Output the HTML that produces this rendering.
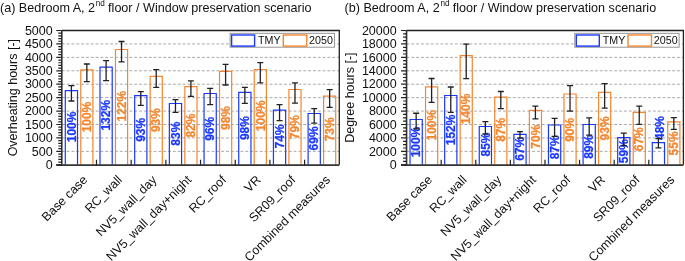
<!DOCTYPE html>
<html><head><meta charset="utf-8"><style>
html,body{margin:0;padding:0;background:#fff;}
svg{display:block;will-change:transform;font-family:"Liberation Sans",sans-serif;fill:#111;}

</style></head><body>
<svg width="685" height="261" viewBox="0 0 685 261">
<rect width="685" height="261" fill="#fff"/>
<text x="0" y="11.9" font-size="12.58">(a) Bedroom A, 2<tspan font-size="8.2" dy="-5.5" dx="0.7">nd</tspan><tspan dy="5.5" dx="-0.3" font-size="12.58"> floor / Window preservation scenario</tspan></text>
<line x1="61.8" x2="339.3" y1="151.37" y2="151.37" stroke="#a9a9a9" stroke-width="1" stroke-dasharray="2.9 1.93"/>
<line x1="61.8" x2="339.3" y1="137.94" y2="137.94" stroke="#a9a9a9" stroke-width="1" stroke-dasharray="2.9 1.93"/>
<line x1="61.8" x2="339.3" y1="124.51" y2="124.51" stroke="#a9a9a9" stroke-width="1" stroke-dasharray="2.9 1.93"/>
<line x1="61.8" x2="339.3" y1="111.08" y2="111.08" stroke="#a9a9a9" stroke-width="1" stroke-dasharray="2.9 1.93"/>
<line x1="61.8" x2="339.3" y1="97.65" y2="97.65" stroke="#a9a9a9" stroke-width="1" stroke-dasharray="2.9 1.93"/>
<line x1="61.8" x2="339.3" y1="84.22" y2="84.22" stroke="#a9a9a9" stroke-width="1" stroke-dasharray="2.9 1.93"/>
<line x1="61.8" x2="339.3" y1="70.79" y2="70.79" stroke="#a9a9a9" stroke-width="1" stroke-dasharray="2.9 1.93"/>
<line x1="61.8" x2="339.3" y1="57.36" y2="57.36" stroke="#a9a9a9" stroke-width="1" stroke-dasharray="2.9 1.93"/>
<line x1="61.8" x2="339.3" y1="43.93" y2="43.93" stroke="#a9a9a9" stroke-width="1" stroke-dasharray="2.9 1.93"/>
<path d="M65.3 164.8V90.7H77.52V164.8" fill="none" stroke="#1a38ff" stroke-width="1.2"/>
<path d="M80.78 164.8V69.8H92.92V164.8" fill="none" stroke="#f5862e" stroke-width="1.2"/>
<path d="M99.99 164.8V67.1H112.21V164.8" fill="none" stroke="#1a38ff" stroke-width="1.2"/>
<path d="M115.47 164.8V49.5H127.61V164.8" fill="none" stroke="#f5862e" stroke-width="1.2"/>
<path d="M134.68 164.8V95.6H146.9V164.8" fill="none" stroke="#1a38ff" stroke-width="1.2"/>
<path d="M150.16 164.8V76.4H162.3V164.8" fill="none" stroke="#f5862e" stroke-width="1.2"/>
<path d="M169.36 164.8V103.5H181.58V164.8" fill="none" stroke="#1a38ff" stroke-width="1.2"/>
<path d="M184.84 164.8V86.7H196.98V164.8" fill="none" stroke="#f5862e" stroke-width="1.2"/>
<path d="M204.05 164.8V93.5H216.27V164.8" fill="none" stroke="#1a38ff" stroke-width="1.2"/>
<path d="M219.53 164.8V71.4H231.67V164.8" fill="none" stroke="#f5862e" stroke-width="1.2"/>
<path d="M238.74 164.8V92.35H250.96V164.8" fill="none" stroke="#1a38ff" stroke-width="1.2"/>
<path d="M254.22 164.8V69.5H266.36V164.8" fill="none" stroke="#f5862e" stroke-width="1.2"/>
<path d="M273.43 164.8V110.1H285.65V164.8" fill="none" stroke="#1a38ff" stroke-width="1.2"/>
<path d="M288.91 164.8V89.5H301.05V164.8" fill="none" stroke="#f5862e" stroke-width="1.2"/>
<path d="M308.11 164.8V113.5H320.33V164.8" fill="none" stroke="#1a38ff" stroke-width="1.2"/>
<path d="M323.59 164.8V96.2H335.73V164.8" fill="none" stroke="#f5862e" stroke-width="1.2"/>
<text transform="translate(75.66,126.9) rotate(-90) scale(1.0,1)" text-anchor="middle" font-size="12.0" font-weight="bold" fill="#1a38ff" stroke="#1a38ff" stroke-width="0.25">100%</text>
<text transform="translate(91.1,117) rotate(-90) scale(1.0,1)" text-anchor="middle" font-size="12.0" font-weight="bold" fill="#f5862e" stroke="#f5862e" stroke-width="0.25">100%</text>
<text transform="translate(110.35,115.25) rotate(-90) scale(1.0,1)" text-anchor="middle" font-size="12.0" font-weight="bold" fill="#1a38ff" stroke="#1a38ff" stroke-width="0.25">132%</text>
<text transform="translate(125.79,106.2) rotate(-90) scale(1.0,1)" text-anchor="middle" font-size="12.0" font-weight="bold" fill="#f5862e" stroke="#f5862e" stroke-width="0.25">122%</text>
<text transform="translate(145.04,129.85) rotate(-90) scale(1.0,1)" text-anchor="middle" font-size="12.0" font-weight="bold" fill="#1a38ff" stroke="#1a38ff" stroke-width="0.25">93%</text>
<text transform="translate(160.48,120.1) rotate(-90) scale(1.0,1)" text-anchor="middle" font-size="12.0" font-weight="bold" fill="#f5862e" stroke="#f5862e" stroke-width="0.25">93%</text>
<text transform="translate(179.73,133.7) rotate(-90) scale(1.0,1)" text-anchor="middle" font-size="12.0" font-weight="bold" fill="#1a38ff" stroke="#1a38ff" stroke-width="0.25">83%</text>
<text transform="translate(195.17,125.6) rotate(-90) scale(1.0,1)" text-anchor="middle" font-size="12.0" font-weight="bold" fill="#f5862e" stroke="#f5862e" stroke-width="0.25">82%</text>
<text transform="translate(214.41,128.85) rotate(-90) scale(1.0,1)" text-anchor="middle" font-size="12.0" font-weight="bold" fill="#1a38ff" stroke="#1a38ff" stroke-width="0.25">96%</text>
<text transform="translate(229.85,118) rotate(-90) scale(1.0,1)" text-anchor="middle" font-size="12.0" font-weight="bold" fill="#f5862e" stroke="#f5862e" stroke-width="0.25">98%</text>
<text transform="translate(249.1,128.1) rotate(-90) scale(1.0,1)" text-anchor="middle" font-size="12.0" font-weight="bold" fill="#1a38ff" stroke="#1a38ff" stroke-width="0.25">98%</text>
<text transform="translate(264.54,115.8) rotate(-90) scale(1.0,1)" text-anchor="middle" font-size="12.0" font-weight="bold" fill="#f5862e" stroke="#f5862e" stroke-width="0.25">100%</text>
<text transform="translate(283.79,136.45) rotate(-90) scale(1.0,1)" text-anchor="middle" font-size="12.0" font-weight="bold" fill="#1a38ff" stroke="#1a38ff" stroke-width="0.25">74%</text>
<text transform="translate(299.23,127.15) rotate(-90) scale(1.0,1)" text-anchor="middle" font-size="12.0" font-weight="bold" fill="#f5862e" stroke="#f5862e" stroke-width="0.25">79%</text>
<text transform="translate(318.48,138.4) rotate(-90) scale(1.0,1)" text-anchor="middle" font-size="12.0" font-weight="bold" fill="#1a38ff" stroke="#1a38ff" stroke-width="0.25">69%</text>
<text transform="translate(333.92,129.35) rotate(-90) scale(1.0,1)" text-anchor="middle" font-size="12.0" font-weight="bold" fill="#f5862e" stroke="#f5862e" stroke-width="0.25">73%</text>
<path d="M71.41 85.6V101M68.41 85.6H74.41M68.41 101H74.41" stroke="#222" stroke-width="1.3" fill="none"/>
<path d="M86.85 64V81.7M83.85 64H89.85M83.85 81.7H89.85" stroke="#222" stroke-width="1.3" fill="none"/>
<path d="M106.1 60.6V80.7M103.1 60.6H109.1M103.1 80.7H109.1" stroke="#222" stroke-width="1.3" fill="none"/>
<path d="M121.54 41.5V61.8M118.54 41.5H124.54M118.54 61.8H124.54" stroke="#222" stroke-width="1.3" fill="none"/>
<path d="M140.79 91.7V105.3M137.79 91.7H143.79M137.79 105.3H143.79" stroke="#222" stroke-width="1.3" fill="none"/>
<path d="M156.23 69.7V87.3M153.23 69.7H159.23M153.23 87.3H159.23" stroke="#222" stroke-width="1.3" fill="none"/>
<path d="M175.47 99.6V112.3M172.47 99.6H178.47M172.47 112.3H178.47" stroke="#222" stroke-width="1.3" fill="none"/>
<path d="M190.91 80.9V96.4M187.91 80.9H193.91M187.91 96.4H193.91" stroke="#222" stroke-width="1.3" fill="none"/>
<path d="M210.16 88.4V104.7M207.16 88.4H213.16M207.16 104.7H213.16" stroke="#222" stroke-width="1.3" fill="none"/>
<path d="M225.6 64.3V85M222.6 64.3H228.6M222.6 85H228.6" stroke="#222" stroke-width="1.3" fill="none"/>
<path d="M244.85 87.35V103.3M241.85 87.35H247.85M241.85 103.3H247.85" stroke="#222" stroke-width="1.3" fill="none"/>
<path d="M260.29 62.6V82.8M257.29 62.6H263.29M257.29 82.8H263.29" stroke="#222" stroke-width="1.3" fill="none"/>
<path d="M279.54 104.65V120.6M276.54 104.65H282.54M276.54 120.6H282.54" stroke="#222" stroke-width="1.3" fill="none"/>
<path d="M294.98 82.9V103.2M291.98 82.9H297.98M291.98 103.2H297.98" stroke="#222" stroke-width="1.3" fill="none"/>
<path d="M314.22 108.7V123.2M311.22 108.7H317.22M311.22 123.2H317.22" stroke="#222" stroke-width="1.3" fill="none"/>
<path d="M329.66 89.7V107.3M326.66 89.7H332.66M326.66 107.3H332.66" stroke="#222" stroke-width="1.3" fill="none"/>
<path d="M61.8 30.5H339.3V164.8" stroke="#222" stroke-width="1.3" fill="none"/>
<path d="M61.8 30.5V164.8M56.3 165.1H339.3" stroke="#333" stroke-width="1.6" fill="none"/>
<path d="M56.3 164.8H61.8M58.3 162.11H61.8M58.3 159.43H61.8M58.3 156.74H61.8M58.3 154.06H61.8M56.3 151.37H61.8M58.3 148.68H61.8M58.3 146H61.8M58.3 143.31H61.8M58.3 140.63H61.8M56.3 137.94H61.8M58.3 135.25H61.8M58.3 132.57H61.8M58.3 129.88H61.8M58.3 127.2H61.8M56.3 124.51H61.8M58.3 121.82H61.8M58.3 119.14H61.8M58.3 116.45H61.8M58.3 113.77H61.8M56.3 111.08H61.8M58.3 108.39H61.8M58.3 105.71H61.8M58.3 103.02H61.8M58.3 100.34H61.8M56.3 97.65H61.8M58.3 94.96H61.8M58.3 92.28H61.8M58.3 89.59H61.8M58.3 86.91H61.8M56.3 84.22H61.8M58.3 81.53H61.8M58.3 78.85H61.8M58.3 76.16H61.8M58.3 73.48H61.8M56.3 70.79H61.8M58.3 68.1H61.8M58.3 65.42H61.8M58.3 62.73H61.8M58.3 60.05H61.8M56.3 57.36H61.8M58.3 54.67H61.8M58.3 51.99H61.8M58.3 49.3H61.8M58.3 46.62H61.8M56.3 43.93H61.8M58.3 41.24H61.8M58.3 38.56H61.8M58.3 35.87H61.8M58.3 33.19H61.8M56.3 30.5H61.8" stroke="#222" stroke-width="1.2" fill="none"/>
<path d="M96.49 165.1V159.7M131.18 165.1V159.7M165.86 165.1V159.7M200.55 165.1V159.7M235.24 165.1V159.7M269.93 165.1V159.7M304.61 165.1V159.7" stroke="#222" stroke-width="1.2" fill="none"/>
<text x="52.7" y="169" text-anchor="end" font-size="12.5">0</text>
<text x="52.7" y="155.57" text-anchor="end" font-size="12.5">500</text>
<text x="52.7" y="142.14" text-anchor="end" font-size="12.5">1000</text>
<text x="52.7" y="128.71" text-anchor="end" font-size="12.5">1500</text>
<text x="52.7" y="115.28" text-anchor="end" font-size="12.5">2000</text>
<text x="52.7" y="101.85" text-anchor="end" font-size="12.5">2500</text>
<text x="52.7" y="88.42" text-anchor="end" font-size="12.5">3000</text>
<text x="52.7" y="74.99" text-anchor="end" font-size="12.5">3500</text>
<text x="52.7" y="61.56" text-anchor="end" font-size="12.5">4000</text>
<text x="52.7" y="48.13" text-anchor="end" font-size="12.5">4500</text>
<text x="52.7" y="34.7" text-anchor="end" font-size="12.5">5000</text>
<text transform="translate(16.9,97.65) rotate(-90)" text-anchor="middle" font-size="12.5">Overheating hours [-]</text>
<text transform="translate(88.14,180.6) rotate(-45)" text-anchor="end" font-size="12.5">Base case</text>
<text transform="translate(122.83,180.6) rotate(-45)" text-anchor="end" font-size="12.5">RC_wall</text>
<text transform="translate(157.52,180.6) rotate(-45)" text-anchor="end" font-size="12.5">NV5_wall_day</text>
<text transform="translate(192.21,180.6) rotate(-45)" text-anchor="end" font-size="12.5">NV5_wall_day+night</text>
<text transform="translate(226.89,180.6) rotate(-45)" text-anchor="end" font-size="12.5">RC_roof</text>
<text transform="translate(261.58,180.6) rotate(-45)" text-anchor="end" font-size="12.5">VR</text>
<text transform="translate(296.27,180.6) rotate(-45)" text-anchor="end" font-size="12.5">SR09_roof</text>
<text transform="translate(330.96,180.6) rotate(-45)" text-anchor="end" font-size="12.5">Combined measures</text>
<rect x="230.1" y="33.3" width="104.5" height="13.9" fill="#fff" stroke="#8a8a8a" stroke-width="0.9"/>
<rect x="231.6" y="35.0" width="23" height="11.1" fill="none" stroke="#1a38ff" stroke-width="1.4"/>
<text x="258.1" y="44.1" font-size="10.7">TMY</text>
<rect x="283.3" y="35.0" width="23.5" height="11.1" fill="none" stroke="#f5862e" stroke-width="1.4"/>
<text x="309.1" y="44.1" font-size="10.7">2050</text>
<text x="344.6" y="11.9" font-size="12.58">(b) Bedroom A, 2<tspan font-size="8.2" dy="-5.5" dx="0.7">nd</tspan><tspan dy="5.5" dx="-0.3" font-size="12.58"> floor / Window preservation scenario</tspan></text>
<line x1="406.55" x2="683.4" y1="151.37" y2="151.37" stroke="#a9a9a9" stroke-width="1" stroke-dasharray="2.9 1.93"/>
<line x1="406.55" x2="683.4" y1="137.94" y2="137.94" stroke="#a9a9a9" stroke-width="1" stroke-dasharray="2.9 1.93"/>
<line x1="406.55" x2="683.4" y1="124.51" y2="124.51" stroke="#a9a9a9" stroke-width="1" stroke-dasharray="2.9 1.93"/>
<line x1="406.55" x2="683.4" y1="111.08" y2="111.08" stroke="#a9a9a9" stroke-width="1" stroke-dasharray="2.9 1.93"/>
<line x1="406.55" x2="683.4" y1="97.65" y2="97.65" stroke="#a9a9a9" stroke-width="1" stroke-dasharray="2.9 1.93"/>
<line x1="406.55" x2="683.4" y1="84.22" y2="84.22" stroke="#a9a9a9" stroke-width="1" stroke-dasharray="2.9 1.93"/>
<line x1="406.55" x2="683.4" y1="70.79" y2="70.79" stroke="#a9a9a9" stroke-width="1" stroke-dasharray="2.9 1.93"/>
<line x1="406.55" x2="683.4" y1="57.36" y2="57.36" stroke="#a9a9a9" stroke-width="1" stroke-dasharray="2.9 1.93"/>
<line x1="406.55" x2="683.4" y1="43.93" y2="43.93" stroke="#a9a9a9" stroke-width="1" stroke-dasharray="2.9 1.93"/>
<path d="M410.05 164.8V119.5H422.27V164.8" fill="none" stroke="#1a38ff" stroke-width="1.2"/>
<path d="M425.53 164.8V86.8H437.67V164.8" fill="none" stroke="#f5862e" stroke-width="1.2"/>
<path d="M444.66 164.8V95.5H456.88V164.8" fill="none" stroke="#1a38ff" stroke-width="1.2"/>
<path d="M460.14 164.8V55.6H472.28V164.8" fill="none" stroke="#f5862e" stroke-width="1.2"/>
<path d="M479.26 164.8V126.5H491.48V164.8" fill="none" stroke="#1a38ff" stroke-width="1.2"/>
<path d="M494.74 164.8V97.1H506.88V164.8" fill="none" stroke="#f5862e" stroke-width="1.2"/>
<path d="M513.87 164.8V134.4H526.09V164.8" fill="none" stroke="#1a38ff" stroke-width="1.2"/>
<path d="M529.35 164.8V110.3H541.49V164.8" fill="none" stroke="#f5862e" stroke-width="1.2"/>
<path d="M548.48 164.8V125H560.7V164.8" fill="none" stroke="#1a38ff" stroke-width="1.2"/>
<path d="M563.96 164.8V94H576.1V164.8" fill="none" stroke="#f5862e" stroke-width="1.2"/>
<path d="M583.08 164.8V124.5H595.3V164.8" fill="none" stroke="#1a38ff" stroke-width="1.2"/>
<path d="M598.56 164.8V92.4H610.7V164.8" fill="none" stroke="#f5862e" stroke-width="1.2"/>
<path d="M617.69 164.8V137.6H629.91V164.8" fill="none" stroke="#1a38ff" stroke-width="1.2"/>
<path d="M633.17 164.8V112.4H645.31V164.8" fill="none" stroke="#f5862e" stroke-width="1.2"/>
<path d="M652.29 164.8V142.6H664.51V164.8" fill="none" stroke="#1a38ff" stroke-width="1.2"/>
<path d="M667.77 164.8V121.8H679.91V164.8" fill="none" stroke="#f5862e" stroke-width="1.2"/>
<text transform="translate(420.41,142) rotate(-90) scale(1.0,1)" text-anchor="middle" font-size="12.0" font-weight="bold" fill="#1a38ff" stroke="#1a38ff" stroke-width="0.25">100%</text>
<text transform="translate(435.85,125.2) rotate(-90) scale(1.0,1)" text-anchor="middle" font-size="12.0" font-weight="bold" fill="#f5862e" stroke="#f5862e" stroke-width="0.25">100%</text>
<text transform="translate(455.02,129.9) rotate(-90) scale(1.0,1)" text-anchor="middle" font-size="12.0" font-weight="bold" fill="#1a38ff" stroke="#1a38ff" stroke-width="0.25">152%</text>
<text transform="translate(470.46,109) rotate(-90) scale(1.0,1)" text-anchor="middle" font-size="12.0" font-weight="bold" fill="#f5862e" stroke="#f5862e" stroke-width="0.25">140%</text>
<text transform="translate(489.63,144.5) rotate(-90) scale(1.0,1)" text-anchor="middle" font-size="12.0" font-weight="bold" fill="#1a38ff" stroke="#1a38ff" stroke-width="0.25">85%</text>
<text transform="translate(505.07,129.8) rotate(-90) scale(1.0,1)" text-anchor="middle" font-size="12.0" font-weight="bold" fill="#f5862e" stroke="#f5862e" stroke-width="0.25">87%</text>
<text transform="translate(524.23,148.85) rotate(-90) scale(1.0,1)" text-anchor="middle" font-size="12.0" font-weight="bold" fill="#1a38ff" stroke="#1a38ff" stroke-width="0.25">67%</text>
<text transform="translate(539.67,136.7) rotate(-90) scale(1.0,1)" text-anchor="middle" font-size="12.0" font-weight="bold" fill="#f5862e" stroke="#f5862e" stroke-width="0.25">70%</text>
<text transform="translate(558.84,147.3) rotate(-90) scale(1.0,1)" text-anchor="middle" font-size="12.0" font-weight="bold" fill="#1a38ff" stroke="#1a38ff" stroke-width="0.25">87%</text>
<text transform="translate(574.28,129.85) rotate(-90) scale(1.0,1)" text-anchor="middle" font-size="12.0" font-weight="bold" fill="#f5862e" stroke="#f5862e" stroke-width="0.25">90%</text>
<text transform="translate(593.45,146.85) rotate(-90) scale(1.0,1)" text-anchor="middle" font-size="12.0" font-weight="bold" fill="#1a38ff" stroke="#1a38ff" stroke-width="0.25">89%</text>
<text transform="translate(608.89,128.4) rotate(-90) scale(1.0,1)" text-anchor="middle" font-size="12.0" font-weight="bold" fill="#f5862e" stroke="#f5862e" stroke-width="0.25">93%</text>
<text transform="translate(628.05,151.15) rotate(-90) scale(1.0,1)" text-anchor="middle" font-size="12.0" font-weight="bold" fill="#1a38ff" stroke="#1a38ff" stroke-width="0.25">59%</text>
<text transform="translate(643.49,139.25) rotate(-90) scale(1.0,1)" text-anchor="middle" font-size="12.0" font-weight="bold" fill="#f5862e" stroke="#f5862e" stroke-width="0.25">67%</text>
<text transform="translate(664.16,128) rotate(-90) scale(1.0,1)" text-anchor="middle" font-size="12.0" font-weight="bold" fill="#1a38ff" stroke="#1a38ff" stroke-width="0.25">48%</text>
<text transform="translate(678.1,143.45) rotate(-90) scale(1.0,1)" text-anchor="middle" font-size="12.0" font-weight="bold" fill="#f5862e" stroke="#f5862e" stroke-width="0.25">55%</text>
<path d="M416.16 113.25V128.8M413.16 113.25H419.16M413.16 128.8H419.16" stroke="#222" stroke-width="1.3" fill="none"/>
<path d="M431.6 78.5V102.3M428.6 78.5H434.6M428.6 102.3H434.6" stroke="#222" stroke-width="1.3" fill="none"/>
<path d="M450.77 87V112.3M447.77 87H453.77M447.77 112.3H453.77" stroke="#222" stroke-width="1.3" fill="none"/>
<path d="M466.21 44.2V78.7M463.21 44.2H469.21M463.21 78.7H469.21" stroke="#222" stroke-width="1.3" fill="none"/>
<path d="M485.37 121.7V134M482.37 121.7H488.37M482.37 134H488.37" stroke="#222" stroke-width="1.3" fill="none"/>
<path d="M500.81 91.5V108.6M497.81 91.5H503.81M497.81 108.6H503.81" stroke="#222" stroke-width="1.3" fill="none"/>
<path d="M519.98 131.6V138.2M516.98 131.6H522.98M516.98 138.2H522.98" stroke="#222" stroke-width="1.3" fill="none"/>
<path d="M535.42 106.1V118.8M532.42 106.1H538.42M532.42 118.8H538.42" stroke="#222" stroke-width="1.3" fill="none"/>
<path d="M554.59 118.3V136.4M551.59 118.3H557.59M551.59 136.4H557.59" stroke="#222" stroke-width="1.3" fill="none"/>
<path d="M570.02 85.6V111.1M567.02 85.6H573.02M567.02 111.1H573.02" stroke="#222" stroke-width="1.3" fill="none"/>
<path d="M589.19 117.9V135.2M586.19 117.9H592.19M586.19 135.2H592.19" stroke="#222" stroke-width="1.3" fill="none"/>
<path d="M604.63 83.6V108.2M601.63 83.6H607.63M601.63 108.2H607.63" stroke="#222" stroke-width="1.3" fill="none"/>
<path d="M623.8 133.2V145.6M620.8 133.2H626.8M620.8 145.6H626.8" stroke="#222" stroke-width="1.3" fill="none"/>
<path d="M639.24 106.2V124.4M636.24 106.2H642.24M636.24 124.4H642.24" stroke="#222" stroke-width="1.3" fill="none"/>
<path d="M658.4 138.7V147.9M655.4 138.7H661.4M655.4 147.9H661.4" stroke="#222" stroke-width="1.3" fill="none"/>
<path d="M673.84 117.6V129.4M670.84 117.6H676.84M670.84 129.4H676.84" stroke="#222" stroke-width="1.3" fill="none"/>
<path d="M406.55 30.5H683.4V164.8" stroke="#222" stroke-width="1.3" fill="none"/>
<path d="M406.55 30.5V164.8M401.05 165.1H683.4" stroke="#333" stroke-width="1.6" fill="none"/>
<path d="M401.05 164.8H406.55M403.05 161.44H406.55M403.05 158.09H406.55M403.05 154.73H406.55M401.05 151.37H406.55M403.05 148.01H406.55M403.05 144.66H406.55M403.05 141.3H406.55M401.05 137.94H406.55M403.05 134.58H406.55M403.05 131.22H406.55M403.05 127.87H406.55M401.05 124.51H406.55M403.05 121.15H406.55M403.05 117.8H406.55M403.05 114.44H406.55M401.05 111.08H406.55M403.05 107.72H406.55M403.05 104.37H406.55M403.05 101.01H406.55M401.05 97.65H406.55M403.05 94.29H406.55M403.05 90.94H406.55M403.05 87.58H406.55M401.05 84.22H406.55M403.05 80.86H406.55M403.05 77.5H406.55M403.05 74.15H406.55M401.05 70.79H406.55M403.05 67.43H406.55M403.05 64.07H406.55M403.05 60.72H406.55M401.05 57.36H406.55M403.05 54H406.55M403.05 50.64H406.55M403.05 47.29H406.55M401.05 43.93H406.55M403.05 40.57H406.55M403.05 37.22H406.55M403.05 33.86H406.55M401.05 30.5H406.55" stroke="#222" stroke-width="1.2" fill="none"/>
<path d="M441.16 165.1V159.7M475.76 165.1V159.7M510.37 165.1V159.7M544.98 165.1V159.7M579.58 165.1V159.7M614.19 165.1V159.7M648.79 165.1V159.7" stroke="#222" stroke-width="1.2" fill="none"/>
<text x="396.7" y="169" text-anchor="end" font-size="12.5">0</text>
<text x="396.7" y="155.57" text-anchor="end" font-size="12.5">2000</text>
<text x="396.7" y="142.14" text-anchor="end" font-size="12.5">4000</text>
<text x="396.7" y="128.71" text-anchor="end" font-size="12.5">6000</text>
<text x="396.7" y="115.28" text-anchor="end" font-size="12.5">8000</text>
<text x="396.7" y="101.85" text-anchor="end" font-size="12.5">10000</text>
<text x="396.7" y="88.42" text-anchor="end" font-size="12.5">12000</text>
<text x="396.7" y="74.99" text-anchor="end" font-size="12.5">14000</text>
<text x="396.7" y="61.56" text-anchor="end" font-size="12.5">16000</text>
<text x="396.7" y="48.13" text-anchor="end" font-size="12.5">18000</text>
<text x="396.7" y="34.7" text-anchor="end" font-size="12.5">20000</text>
<text transform="translate(354.4,97.65) rotate(-90)" text-anchor="middle" font-size="12.5">Degree hours [-]</text>
<text transform="translate(432.85,180.6) rotate(-45)" text-anchor="end" font-size="12.5">Base case</text>
<text transform="translate(467.46,180.6) rotate(-45)" text-anchor="end" font-size="12.5">RC_wall</text>
<text transform="translate(502.07,180.6) rotate(-45)" text-anchor="end" font-size="12.5">NV5_wall_day</text>
<text transform="translate(536.67,180.6) rotate(-45)" text-anchor="end" font-size="12.5">NV5_wall_day+night</text>
<text transform="translate(571.28,180.6) rotate(-45)" text-anchor="end" font-size="12.5">RC_roof</text>
<text transform="translate(605.88,180.6) rotate(-45)" text-anchor="end" font-size="12.5">VR</text>
<text transform="translate(640.49,180.6) rotate(-45)" text-anchor="end" font-size="12.5">SR09_roof</text>
<text transform="translate(675.1,180.6) rotate(-45)" text-anchor="end" font-size="12.5">Combined measures</text>
<rect x="574.8" y="33.3" width="104.3" height="13.9" fill="#fff" stroke="#8a8a8a" stroke-width="0.9"/>
<rect x="576.3" y="35.0" width="23" height="11.1" fill="none" stroke="#1a38ff" stroke-width="1.4"/>
<text x="602.8" y="44.1" font-size="10.7">TMY</text>
<rect x="628" y="35.0" width="23.5" height="11.1" fill="none" stroke="#f5862e" stroke-width="1.4"/>
<text x="653.8" y="44.1" font-size="10.7">2050</text>
</svg>
</body></html>
